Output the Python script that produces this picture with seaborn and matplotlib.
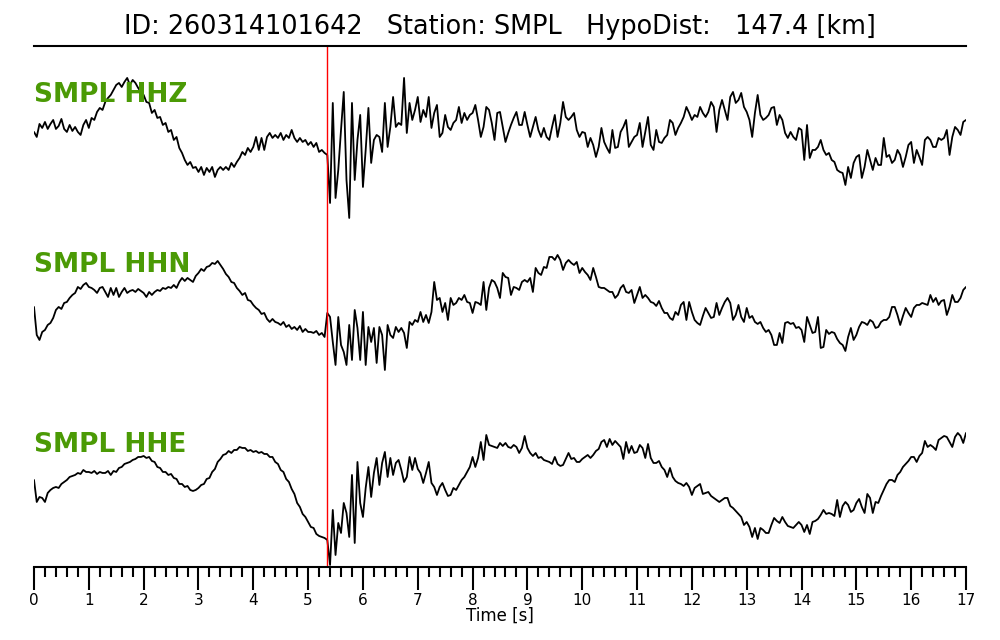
"""Three-component seismogram, station SMPL"""
import numpy as np
import pandas as pd
import seaborn as sns
import matplotlib
matplotlib.use('Agg')
import matplotlib.pyplot as plt
from matplotlib.ticker import MultipleLocator

# header / labels
event_id = '260314101642'
station = 'SMPL'
hypo_dist = 147.4
channels = ['HHZ', 'HHN', 'HHE']
p_pick = 5.35          # seconds, red marker
dt = 0.05              # sampling step of the read-off traces [s]

# amplitudes (arbitrary counts), one row per second
hhz = [
    8, 3, 16, 12, 18, 11, 16, 20, 11, 14, 21, 11, 8, 15, 9, 13, 8, 5, 15, 20,
    12, 22, 20, 28, 32, 30, 38, 42, 45, 50, 55, 57, 53, 58, 62, 55, 60, 57, 52, 48,
    45, 38, 37, 27, 30, 22, 23, 15, 17, 8, 10, 0, 3, -8, -13, -20, -25, -22, -28, -27,
    -32, -27, -35, -28, -32, -27, -37, -30, -27, -30, -27, -30, -23, -27, -22, -18, -12, -15, -8, -12,
    -7, 3, -10, 2, -10, 3, 7, 2, 5, 2, 7, 0, 5, 2, 10, 2, -2, 2, -2, 0,
    -5, -2, -7, -3, -12, -10, -13, -15, -63, 37, -58, -30, 10, 48, -40, -78, 37, -40, 0, 25,
    -47, -10, 32, -23, 0, 5, 3, -12, 37, -7, 13, 43, 13, 17, 15, 62, 7, 37, 20, 30,
    43, 18, 30, 23, 43, 12, 27, 35, 3, 7, 25, 13, 10, 17, 20, 33, 17, 27, 20, 25,
    27, 35, 20, 3, 13, 33, 30, 17, 0, 27, 28, 13, -2, 7, 15, 22, 28, 15, 15, 28,
    15, 3, 13, 23, 10, 3, 12, 3, 0, 13, 25, 3, 17, 38, 23, 20, 23, 27, 10, 3,
    8, 7, -7, 2, -5, -17, -7, 12, -2, -8, -13, 10, -8, -7, 8, 13, 20, -7, -2, 3,
    5, 17, -7, 8, 23, -5, -10, 10, -2, -3, 2, 5, 20, 17, 5, 12, 17, 23, 33, 27,
    20, 25, 23, 33, 27, 23, 28, 38, 33, 8, 30, 40, 30, 20, 43, 48, 37, 40, 47, 33,
    28, 20, 3, 27, 45, 25, 20, 22, 25, 32, 33, 15, 25, 20, 7, 2, 8, 3, 0, 12,
    10, -20, 15, -18, -10, -10, -7, 0, -10, -15, -13, -20, -22, -30, -32, -33, -45, -27, -38, -23,
    -17, -15, -38, -27, -10, -20, -30, -18, -25, -25, 2, -17, -15, -23, -20, -10, -15, -27, -17, -5,
    -2, -23, -10, -17, -25, 0, 3, 0, -7, -7, 2, 0, 2, 10, -15, 3, 13, 10, 5, 18,
    20,
]

hhn = [
    3, -25, -30, -22, -20, -15, -13, -8, 0, 3, 1, 7, 8, 12, 15, 17, 23, 21, 25, 27,
    23, 22, 20, 17, 22, 23, 18, 13, 22, 15, 22, 13, 18, 22, 17, 19, 20, 18, 21, 19,
    17, 13, 18, 15, 18, 20, 19, 22, 21, 23, 22, 25, 22, 28, 32, 29, 32, 30, 28, 34,
    37, 41, 39, 43, 44, 47, 46, 49, 45, 41, 36, 33, 28, 27, 22, 19, 15, 17, 10, 9,
    5, 2, 0, -4, -3, -9, -12, -9, -12, -13, -15, -12, -17, -15, -19, -17, -20, -16, -22, -19,
    -22, -22, -23, -21, -25, -23, -27, -3, -7, -32, -55, -7, -35, -42, -55, -15, -50, 0, -18, -50,
    -2, -55, -17, -32, -18, -53, -17, -25, -60, -15, -25, -28, -17, -22, -18, -23, -38, -12, -15, -10,
    -12, -2, -12, -5, -13, -2, 28, 10, 12, -2, 7, -10, 12, 5, 7, 12, 10, 15, 8, 7,
    -3, 8, 7, 5, 28, 0, 22, 30, 28, 22, 12, 37, 33, 32, 15, 23, 22, 20, 28, 30,
    28, 32, 18, 42, 37, 35, 43, 42, 53, 53, 50, 55, 50, 40, 47, 50, 47, 45, 48, 37,
    42, 38, 35, 30, 42, 33, 23, 22, 22, 20, 18, 18, 12, 15, 22, 25, 18, 17, 20, 7,
    15, 23, 12, 15, 12, 8, 7, 4, 9, 2, -3, -3, -8, -10, -2, -5, 5, 8, -10, 8,
    -2, -10, -13, -15, -6, 2, -3, -8, -7, 7, -5, 2, 8, 12, 7, -10, -5, 5, -7, -12,
    2, -8, -6, -12, -14, -12, -18, -22, -20, -25, -35, -35, -23, -33, -13, -12, -14, -13, -18, -17,
    -20, -32, -7, -15, -23, -22, -7, -38, -37, -20, -24, -22, -23, -29, -33, -35, -41, -27, -18, -30,
    -25, -17, -12, -13, -15, -10, -12, -18, -17, -12, -10, -10, -7, 3, 3, -5, -15, -6, 2, -3,
    -7, 2, 5, 5, 7, 6, 5, 15, 8, 12, 5, 9, 10, -5, 3, 15, 8, 8, 12, 20,
    23,
]

hhe = [
    10, -12, -7, -8, -12, -3, 0, 2, 3, 2, 6, 8, 10, 13, 14, 15, 17, 16, 20, 18,
    18, 17, 19, 16, 18, 17, 17, 19, 15, 19, 18, 22, 23, 26, 27, 28, 30, 31, 33, 33,
    34, 32, 33, 29, 28, 23, 22, 18, 18, 15, 16, 12, 11, 6, 6, 3, 4, 0, -1, 0,
    2, 5, 6, 11, 12, 18, 21, 28, 31, 35, 36, 39, 37, 40, 40, 43, 42, 42, 39, 40,
    38, 39, 37, 38, 36, 36, 33, 33, 28, 26, 20, 18, 11, 8, 1, -4, -13, -17, -24, -27,
    -32, -37, -38, -44, -46, -47, -48, -50, -75, -20, -65, -33, -43, -13, -23, -47, 15, -53, 28, -13,
    -27, 2, 23, -7, 17, 32, 5, 27, 38, 13, 32, 15, 27, 30, 20, 8, 13, 33, 20, 32,
    21, 17, 7, 17, 28, 7, 3, -5, 3, 7, 0, -6, -5, 2, 0, 5, 10, 13, 18, 23,
    33, 23, 32, 48, 30, 55, 45, 44, 43, 42, 47, 44, 47, 43, 42, 45, 43, 37, 42, 54,
    42, 37, 34, 37, 32, 33, 30, 29, 28, 26, 33, 26, 24, 25, 31, 37, 31, 32, 28, 28,
    31, 33, 35, 32, 35, 39, 41, 48, 50, 43, 51, 45, 49, 46, 43, 31, 48, 37, 44, 37,
    38, 45, 42, 32, 46, 32, 27, 27, 29, 23, 20, 13, 22, 13, 9, 7, 6, 4, 7, 3,
    -5, 2, 4, 6, -4, -3, -2, -6, -8, -10, -12, -10, -8, -8, -16, -18, -21, -24, -27, -35,
    -32, -37, -47, -38, -49, -38, -40, -43, -43, -35, -28, -31, -33, -27, -32, -36, -37, -38, -35, -32,
    -35, -42, -35, -44, -32, -31, -29, -25, -20, -24, -23, -24, -26, -10, -27, -16, -12, -15, -22, -20,
    -13, -9, -17, -23, -4, -8, -23, -12, -13, -6, 0, 6, 10, 10, 8, 15, 18, 23, 26, 29,
    33, 33, 28, 34, 37, 49, 43, 45, 43, 40, 50, 52, 54, 53, 48, 43, 53, 57, 54, 47,
    57,
]

# vertical spacing of the traces
offsets = [0, -170, -350]
label_lift = 38
green = '#4b9a05'

sns.set_theme(style='white')
plt.rcParams['font.family'] = ['DejaVu Sans']
plt.rcParams['text.color'] = 'black'
plt.rcParams['axes.labelcolor'] = 'black'
plt.rcParams['xtick.color'] = 'black'

time = np.round(np.arange(len(hhz)) * dt, 3)
df = pd.DataFrame({'time': time, 'HHZ': hhz, 'HHN': hhn, 'HHE': hhe})

fig = plt.figure(figsize=(10, 6.4), dpi=100)
ax = fig.add_axes([0.034, 0.1141, 0.932, 0.8141])

for chan, off in zip(channels, offsets):
    sns.lineplot(x=df['time'], y=df[chan] + off, ax=ax, color='black',
                 linewidth=1.3, estimator=None, sort=False)
    ax.text(0, off + label_lift, f'{station} {chan}', color=green,
            fontsize=19, fontweight='bold', ha='left', va='baseline')

ax.axvline(p_pick, color='red', linewidth=1.0)

ax.set_xlim(0, 17)
ax.set_ylim(-427, 94)

# spines: only top (under the title) and bottom (time axis)
for side in ['left', 'right']:
    ax.spines[side].set_visible(False)
for side in ['top', 'bottom']:
    ax.spines[side].set_color('black')
    ax.spines[side].set_linewidth(1.5)

ax.set_yticks([])
ax.set_ylabel('')
ax.xaxis.set_major_locator(MultipleLocator(1))
ax.xaxis.set_minor_locator(MultipleLocator(0.2))
ax.tick_params(axis='x', which='major', direction='out', length=16.5,
               width=1.5, color='black', labelcolor='black', labelsize=11,
               pad=2, bottom=True)
ax.tick_params(axis='x', which='minor', direction='out', length=7.2,
               width=1.5, color='black', bottom=True)
ax.set_xlabel('Time [s]', fontsize=12, labelpad=-1, color='black')

fig.text(0.5, 1 - 27 / 640,
         f'ID: {event_id}   Station: {station}   HypoDist:   {hypo_dist} [km]',
         ha='center', va='center', fontsize=18.4, color='black')

fig.savefig('out.png', dpi=100, facecolor='white')
